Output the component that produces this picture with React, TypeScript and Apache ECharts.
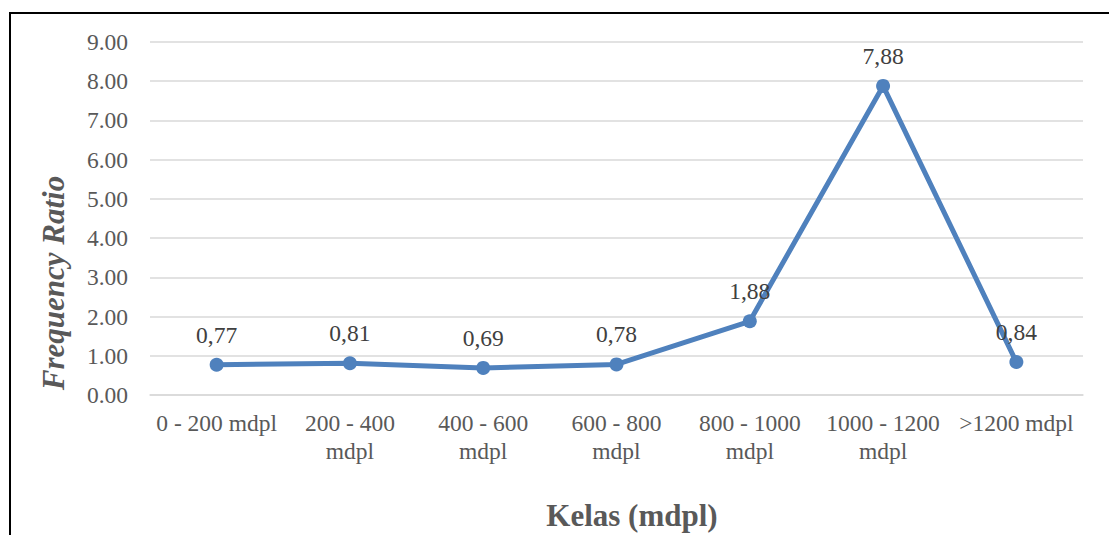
import React, { useEffect, useRef } from "react";
import * as echarts from "echarts";

const categories = [
  "0 - 200 mdpl",
  "200 - 400\nmdpl",
  "400 - 600\nmdpl",
  "600 - 800\nmdpl",
  "800 - 1000\nmdpl",
  "1000 - 1200\nmdpl",
  ">1200 mdpl",
];
const frequencyRatio = [0.77, 0.81, 0.69, 0.78, 1.88, 7.88, 0.84];
const yTitle = "Frequency Ratio";
const xTitle = "Kelas (mdpl)";

const FONT = "'Liberation Serif', 'Times New Roman', serif";

export default function App() {
  const ref = useRef<HTMLDivElement>(null);
  useEffect(() => {
    document.body.style.margin = "0";
    const chart = echarts.init(ref.current!, null, { renderer: "svg" });
    chart.setOption({
      animation: false,
      backgroundColor: "#ffffff",
      grid: { left: 150, right: 26, top: 42, bottom: 140, containLabel: false },
      xAxis: {
        type: "category",
        data: categories,
        boundaryGap: true,
        axisLine: { show: true, lineStyle: { color: "#D9D9D9", width: 1.5 } },
        axisTick: { show: false },
        axisLabel: {
          fontFamily: FONT,
          fontSize: 23.5,
          color: "#595959",
          margin: 14,
          lineHeight: 28,
          interval: 0,
        },
      },
      yAxis: {
        type: "value",
        min: 0,
        max: 9,
        interval: 1,
        axisLine: { show: false },
        axisTick: { show: false },
        splitLine: { lineStyle: { color: "#D9D9D9", width: 1.5 } },
        axisLabel: {
          fontFamily: FONT,
          fontSize: 23.5,
          color: "#595959",
          margin: 22,
          formatter: (v: number) => v.toFixed(2),
        },
      },
      series: [
        {
          type: "line",
          data: frequencyRatio,
          symbol: "circle",
          symbolSize: 14,
          lineStyle: { color: "#4F81BD", width: 5 },
          itemStyle: { color: "#4F81BD" },
          label: {
            show: true,
            position: "top",
            distance: 11,
            fontFamily: FONT,
            fontSize: 23.5,
            color: "#404040",
            formatter: (p: any) => p.value.toFixed(2).replace(".", ","),
          },
        },
      ],
      graphic: [
        {
          type: "rect",
          shape: { x: 10, y: 13, width: 1300, height: 700 },
          style: { fill: "none", stroke: "#000000", lineWidth: 2 },
          silent: true,
        },
        {
          type: "text",
          x: 53,
          y: 283,
          rotation: Math.PI / 2,
          style: {
            text: yTitle,
            fontFamily: FONT,
            fontSize: 31,
            fontWeight: "bold",
            fontStyle: "italic",
            fill: "#595959",
            align: "center",
            verticalAlign: "middle",
          },
        },
        {
          type: "text",
          x: 632,
          y: 515,
          style: {
            text: xTitle,
            fontFamily: FONT,
            fontSize: 31,
            fontWeight: "bold",
            fill: "#595959",
            align: "center",
            verticalAlign: "middle",
          },
        },
      ],
    });
    return () => chart.dispose();
  }, []);
  return <div ref={ref} style={{ width: 1109, height: 535 }} />;
}
